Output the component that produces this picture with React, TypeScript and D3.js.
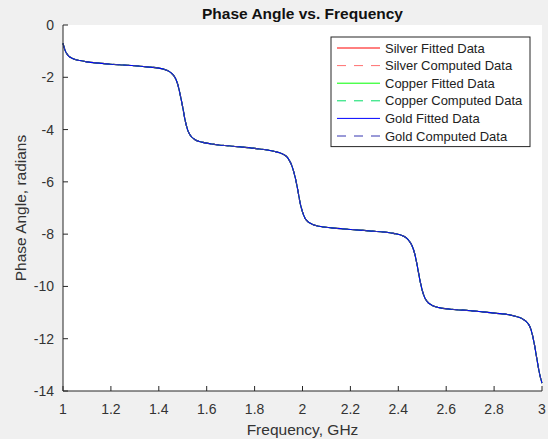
import { scaleLinear, line, curveMonotoneX } from "d3";

const freq = [1.0, 1.01, 1.02, 1.04, 1.07, 1.1, 1.15, 1.2, 1.25, 1.3, 1.35, 1.4, 1.43, 1.45, 1.47, 1.48, 1.49, 1.5, 1.51, 1.52, 1.53, 1.55, 1.58, 1.62, 1.7, 1.8, 1.88, 1.92, 1.94, 1.96, 1.97, 1.98, 1.99, 2.0, 2.01, 2.02, 2.04, 2.07, 2.12, 2.2, 2.3, 2.38, 2.42, 2.44, 2.46, 2.47, 2.48, 2.49, 2.5, 2.51, 2.52, 2.54, 2.57, 2.62, 2.7, 2.8, 2.88, 2.92, 2.94, 2.95, 2.96, 2.97, 2.98, 2.99, 3.0];

const phase = [-0.7, -1.0, -1.15, -1.28, -1.36, -1.41, -1.46, -1.5, -1.53, -1.56, -1.6, -1.65, -1.72, -1.82, -2.05, -2.3, -2.7, -3.15, -3.65, -4.0, -4.2, -4.38, -4.48, -4.55, -4.63, -4.72, -4.83, -4.95, -5.1, -5.5, -5.85, -6.3, -6.8, -7.15, -7.38, -7.5, -7.62, -7.7, -7.76, -7.82, -7.89, -7.97, -8.07, -8.2, -8.5, -8.8, -9.25, -9.75, -10.15, -10.42, -10.57, -10.72, -10.81, -10.87, -10.93, -11.02, -11.12, -11.25, -11.4, -11.55, -11.85, -12.3, -12.85, -13.35, -13.7];

// fitted and computed curves for all three metals coincide, gold is drawn last
const seriesNames = ["Silver Fitted Data", "Silver Computed Data", "Copper Fitted Data", "Copper Computed Data", "Gold Fitted Data", "Gold Computed Data"];
const seriesColors = ["#ff0000", "#ff7070", "#00ff00", "#00dd66", "#0000ff", "#3434b0"];
const seriesDashed = [false, true, false, true, false, true];

const xTicks = [1, 1.2, 1.4, 1.6, 1.8, 2, 2.2, 2.4, 2.6, 2.8, 3];
const yTicks = [0, -2, -4, -6, -8, -10, -12, -14];

export default function App() {
  const width = 548;
  const height = 439;
  const left = 63;
  const right = 542;
  const top = 25;
  const bottom = 391;

  const x = scaleLinear().domain([1, 3]).range([left, right]);
  const y = scaleLinear().domain([-14, 0]).range([bottom, top]);
  const pts = freq.map((f, i) => [f, phase[i]] as [number, number]);
  const path = line<[number, number]>()
    .x((d) => x(d[0]))
    .y((d) => y(d[1]))
    .curve(curveMonotoneX)(pts) ?? "";

  const axisColor = "#262626";
  const textColor = "#333333";
  const font = "'Liberation Sans', Arial, sans-serif";
  const legX = 331;
  const legY = 37;
  const legW = 199;
  const rowH = 17.6;

  return (
    <div style={{ position: "absolute", left: 0, top: 0 }}>
      <svg width={width} height={height} style={{ display: "block" }} fontFamily={font}>
        <rect x={0} y={0} width={width} height={height} fill="#f0f0f0" />
        <rect x={left} y={top} width={right - left} height={bottom - top} fill="#ffffff" />

        {seriesNames.map((name, i) => (
          <path
            key={name}
            d={path}
            fill="none"
            stroke={seriesColors[i]}
            strokeWidth={1.1}
            strokeDasharray={seriesDashed[i] ? "6 4" : undefined}
          />
        ))}

        {/* axes, no box */}
        <line x1={left} x2={right} y1={bottom} y2={bottom} stroke={axisColor} strokeWidth={1} />
        <line x1={left} x2={left} y1={top} y2={bottom} stroke={axisColor} strokeWidth={1} />
        {xTicks.map((t) => (
          <g key={t}>
            <line x1={x(t)} x2={x(t)} y1={bottom} y2={bottom - 5} stroke={axisColor} />
            <text x={x(t)} y={bottom + 23} textAnchor="middle" fontSize={14} fill={textColor}>
              {t}
            </text>
          </g>
        ))}
        {yTicks.map((t) => (
          <g key={t}>
            <line x1={left} x2={left + 5} y1={y(t)} y2={y(t)} stroke={axisColor} />
            <text x={left - 9} y={y(t) + 5} textAnchor="end" fontSize={14} fill={textColor}>
              {t}
            </text>
          </g>
        ))}

        <text x={(left + right) / 2} y={435} textAnchor="middle" fontSize={15.5} fill={textColor}>
          Frequency, GHz
        </text>
        <text
          transform={`translate(25.5, ${(top + bottom) / 2}) rotate(-90)`}
          textAnchor="middle"
          fontSize={15.5}
          fill={textColor}
        >
          Phase Angle, radians
        </text>
        <text x={(left + right) / 2} y={18.5} textAnchor="middle" fontSize={15.5} fontWeight="bold" fill="#111111">
          Phase Angle vs. Frequency
        </text>

        {/* legend */}
        <rect x={legX} y={legY} width={legW} height={6 * rowH + 4} fill="#ffffff" stroke={axisColor} strokeWidth={1} />
        {seriesNames.map((name, i) => {
          const ry = legY + 11 + i * rowH;
          return (
            <g key={name}>
              <line
                x1={legX + 6}
                x2={legX + 49}
                y1={ry}
                y2={ry}
                stroke={seriesColors[i]}
                strokeWidth={1}
                strokeDasharray={seriesDashed[i] ? "9 8" : undefined}
              />
              <text x={legX + 54} y={ry + 4.5} fontSize={13} fill="#222222">
                {name}
              </text>
            </g>
          );
        })}
      </svg>
    </div>
  );
}
